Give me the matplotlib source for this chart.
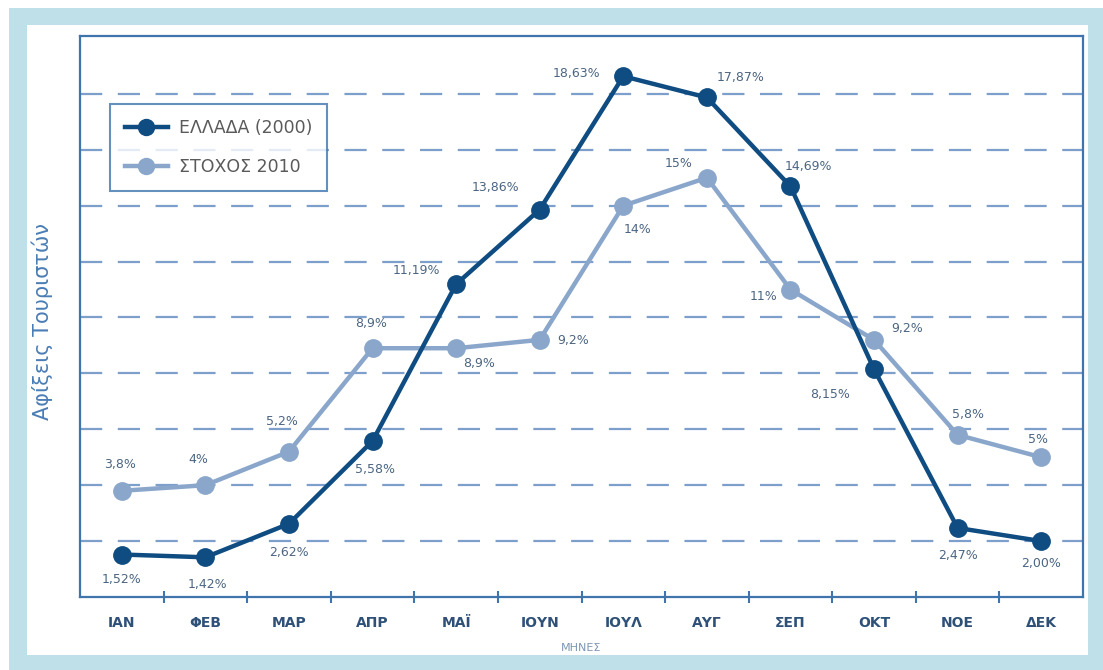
import matplotlib
matplotlib.use("Agg")
import matplotlib.pyplot as plt
from matplotlib.patches import Rectangle

months = ["ΙΑΝ", "ΦΕΒ", "ΜΑΡ", "ΑΠΡ", "ΜΑΪ", "ΙΟΥΝ", "ΙΟΥΛ", "ΑΥΓ", "ΣΕΠ", "ΟΚΤ", "ΝΟΕ", "ΔΕΚ"]
greece_2000 = [1.52, 1.42, 2.62, 5.58, 11.19, 13.86, 18.63, 17.87, 14.69, 8.15, 2.47, 2.00]
target_2010 = [3.8, 4.0, 5.2, 8.9, 8.9, 9.2, 14.0, 15.0, 11.0, 9.2, 5.8, 5.0]
greece_labels = ["1,52%", "1,42%", "2,62%", "5,58%", "11,19%", "13,86%", "18,63%",
                 "17,87%", "14,69%", "8,15%", "2,47%", "2,00%"]
target_labels = ["3,8%", "4%", "5,2%", "8,9%", "8,9%", "9,2%", "14%", "15%",
                 "11%", "9,2%", "5,8%", "5%"]

# label offsets in pixels (dx, dy) relative to point
greece_off = [(0, -25), (2, -27), (0, -29), (2, -28), (-40, 14), (-44, 22), (-47, 3),
              (34, 20), (18, 20), (-44, -25), (0, -28), (0, -22)]
target_off = [(-2, 26), (-7, 26), (-7, 30), (-1, 25), (23, -15), (33, -1), (14, -24),
              (-28, 14), (-27, -7), (33, 11), (10, 20), (-3, 18)]

dark = "#0f4c81"
light = "#8aa7cb"
txt = "#4c6582"
spine_c = "#3f74ad"
grid_c = "#7d9fcc"

fig = plt.figure(figsize=(11.03, 6.70), dpi=100)
W, H = 1103, 670
# frame
fig.patches.append(Rectangle((9 / W, 0), 1 - 9 / W, 1 - 8 / H, transform=fig.transFigure,
                             facecolor="#bfe0e8", edgecolor="none", zorder=-10))
fig.patches.append(Rectangle((27 / W, 15 / H), (1088 - 27) / W, (645 - 25) / H + 10 / H,
                             transform=fig.transFigure, facecolor="white", edgecolor="none", zorder=-9))

ax = fig.add_axes([80 / W, (H - 597) / H, (1083 - 80) / W, (597 - 36) / H])
ax.set_facecolor("none")
ax.set_zorder(5)
x = list(range(len(months)))
ax.set_xlim(-0.5, len(months) - 0.5)
ax.set_ylim(0, 20.07)

for yv in range(2, 20, 2):
    ax.axhline(yv, color=grid_c, lw=1.6, dashes=(10, 7), zorder=1)

ax.plot(x, greece_2000, color=dark, lw=3.2, marker="o", ms=12.5, label="ΕΛΛΑΔΑ (2000)", zorder=4)
ax.plot(x, target_2010, color=light, lw=3.2, marker="o", ms=12.5, label="ΣΤΟΧΟΣ 2010", zorder=3)

for xi, yi, lab, (dx, dy) in zip(x, greece_2000, greece_labels, greece_off):
    ax.annotate(lab, (xi, yi), xytext=(dx * 0.72, dy * 0.72), textcoords="offset points",
                ha="center", va="center", fontsize=9, color=txt)
for xi, yi, lab, (dx, dy) in zip(x, target_2010, target_labels, target_off):
    ax.annotate(lab, (xi, yi), xytext=(dx * 0.72, dy * 0.72), textcoords="offset points",
                ha="center", va="center", fontsize=9, color=txt)

for s in ax.spines.values():
    s.set_color(spine_c)
    s.set_linewidth(1.6)

ax.set_xticks([i + 0.5 for i in range(len(months) - 1)])
ax.set_xticklabels([])
ax.set_xticks(x, minor=True)
ax.set_xticklabels(months, minor=True, fontsize=10, fontweight="bold", color="#2f5178")
ax.tick_params(axis="x", which="major", direction="inout", length=9, width=1.5, color=spine_c)
ax.tick_params(axis="x", which="minor", length=0, pad=14)
ax.set_yticks([])

fig.text(42 / W, 1 - 322 / H, "Αφίξεις Τουριστών", rotation=90, ha="center", va="center",
         fontsize=15, color="#4a7db5")
fig.text(581 / W, 1 - 648 / H, "ΜΗΝΕΣ", ha="center", va="center", fontsize=8, color="#7f95b3")

leg = ax.legend(loc="upper left", bbox_to_anchor=(30 / 1003, 1 - 68 / 561), frameon=True,
                fancybox=False, fontsize=12.5, labelcolor="#5a5a5a", handlelength=2.5,
                borderpad=0.85, labelspacing=1.25, handletextpad=0.6, borderaxespad=0)
leg.get_frame().set_edgecolor(spine_c)
leg.get_frame().set_linewidth(1.5)
for h in leg.legend_handles:
    h.set_markersize(11.5)

fig.savefig("out.png", dpi=100)
